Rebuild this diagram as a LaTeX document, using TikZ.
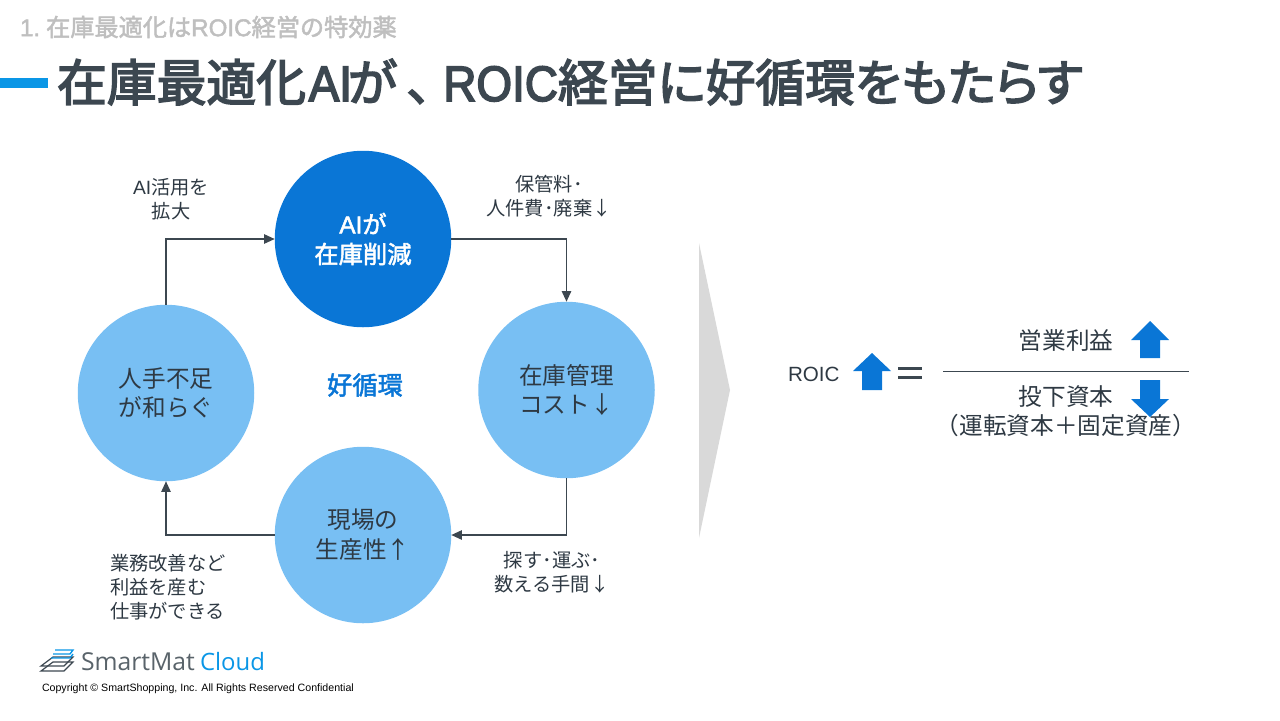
\documentclass[tikz,border=0pt]{standalone}
\usepackage{fontspec}
\setmainfont{Noto Sans CJK JP}
\newfontfamily\titlef[FakeBold=3.2,RawFeature={+palt}]{Noto Sans CJK JP}
\newfontfamily\titlelat[FakeBold=3.2,FakeStretch=0.92]{Liberation Sans}
\newfontfamily\semif[FakeBold=2]{Noto Sans CJK JP}
\newfontfamily\semilat[FakeBold=2]{Liberation Sans}
\newfontfamily\latinf{Liberation Sans}
\newfontfamily\smartf{Open Sans}
\usetikzlibrary{arrows.meta}
\definecolor{ink}{HTML}{3C4750}
\definecolor{body}{HTML}{2E3943}
\definecolor{deep}{HTML}{0A76D6}
\definecolor{pale}{HTML}{78BFF3}
\definecolor{barblue}{HTML}{0A96E6}
\definecolor{greytx}{HTML}{BFBFBF}
\definecolor{greytri}{HTML}{D9D9D9}
\tikzset{
 every node/.style={inner sep=0pt,outer sep=0pt,text=body},
 cyc/.style={circle,minimum size=176.5bp*0.75,align=center,font=\fontsize{17.8}{22.5}\selectfont},
 lab/.style={align=center,font=\fontsize{14.5}{18}\selectfont},
 lnk/.style={draw=ink,line width=1.2pt,-{Triangle[length=8bp,width=7bp]}},
 blockarrow/.style={fill=deep,draw=none},
}
\begin{document}
\begin{tikzpicture}[x=0.75bp,y=-0.75bp]
\useasboundingbox (0,0) rectangle (1280,720);
\node[anchor=west,text=greytx,font=\fontsize{18.2}{20}\selectfont\semif] (sub) at (20,27) {{\semilat 1.\kern4.5pt}在庫最適化は{\semilat ROIC}経営の特効薬};
\fill[barblue] (0,78) rectangle (48,88);
\node[anchor=west,text=ink,font=\fontsize{37.5}{40}\selectfont\titlef] (title) at (57,82) {在庫最適化\kern2pt{\titlelat AI}\kern-3pt が\kern7.5pt、\kern8.8pt{\titlelat ROIC}経営に好循環をもたらす};

\node[cyc,fill=deep,text=white,font=\fontsize{18.3}{22.5}\selectfont\semif] (ai) at (363,239) {{\semilat AI}が\\在庫削減};
\node[cyc,fill=pale] (cost) at (566.5,390) {在庫管理\\コスト↓};
\node[cyc,fill=pale] (gen) at (363,535) {現場の\\生産性↑};
\node[cyc,fill=pale] (hito) at (166,393) {人手不足\\が和らぐ};
\node[text=deep,font=\fontsize{19}{22}\selectfont\semif] (loop) at (365,385) {好循環};

\draw[lnk] (ai.east) -| (cost.north);
\draw[lnk] (cost.south) |- (gen.east);
\draw[lnk] (gen.west) -| (hito.south);
\draw[lnk] (hito.north) |- (ai.west);

\node[lab] (l1) at (171,199) {{\latinf AI}活用を\\拡大};
\node[lab] (l2) at (549,196) {保管料･\\人件費･廃棄↓};
\node[lab] (l3) at (552,572) {探す･運ぶ･\\数える手間↓};
\node[lab,align=left,anchor=west] (l4) at (110,587) {業務改善など\\利益を産む\\仕事ができる};

\fill[greytri] (699,243) -- (730,390) -- (699,538) -- cycle;

\node[anchor=west,font=\latinf\fontsize{15.5}{18}\selectfont] (roic) at (788,374.5) {ROIC};
\fill[blockarrow] (872,353) -- (891,371) -- (882,371) -- (882,390) -- (862,390) -- (862,371) -- (853,371) -- cycle;
\fill[ink] (898,367) rectangle (922,369.5);
\fill[ink] (898,376) rectangle (922,378.5);
\coordinate (fa) at (943,371.5);
\coordinate (fb) at (1189,371.5);
\draw[ink,line width=0.75pt] (fa) -- (fb);
\node[font=\fontsize{17.8}{20}\selectfont] (rev) at (1066,340) {営業利益};
\node[font=\fontsize{17.8}{20}\selectfont] (cap) at (1066,397) {投下資本};
\node[font=\fontsize{17.8}{20}\selectfont] (cap2) at (1066,426) {（運転資本＋固定資産）};
\fill[blockarrow] (1150,321) -- (1169,340) -- (1160,340) -- (1160,358) -- (1140,358) -- (1140,340) -- (1131,340) -- cycle;
\fill[blockarrow] (1140,380) -- (1160,380) -- (1160,399) -- (1169,399) -- (1150,417) -- (1131,399) -- (1140,399) -- cycle;

% logo
\foreach \dy in {0,-5}{
 \draw[ink,line width=0.9pt] (41,{671+\dy}) -- (64,{671+\dy}) -- (73,{662+\dy}) -- (53,{662+\dy}) -- cycle;
}
\draw[barblue,line width=1pt] (55,650) -- (73,650) -- (70,654) -- (53,654) (51,658) -- (70,658) -- (73,654);
\node[anchor=west,font=\smartf\fontsize{18.6}{22}\selectfont,text=ink!85] (sm) at (81,662) {SmartMat};
\node[anchor=west,font=\smartf\fontsize{18}{22}\selectfont,text=barblue] (cl) at (200,662) {Cloud};
\node[anchor=west,text=black,font=\latinf\fontsize{8}{10}\selectfont] (copy) at (42,689) {Copyright © SmartShopping, Inc. All Rights Reserved Confidential};
\end{tikzpicture}
\end{document}
